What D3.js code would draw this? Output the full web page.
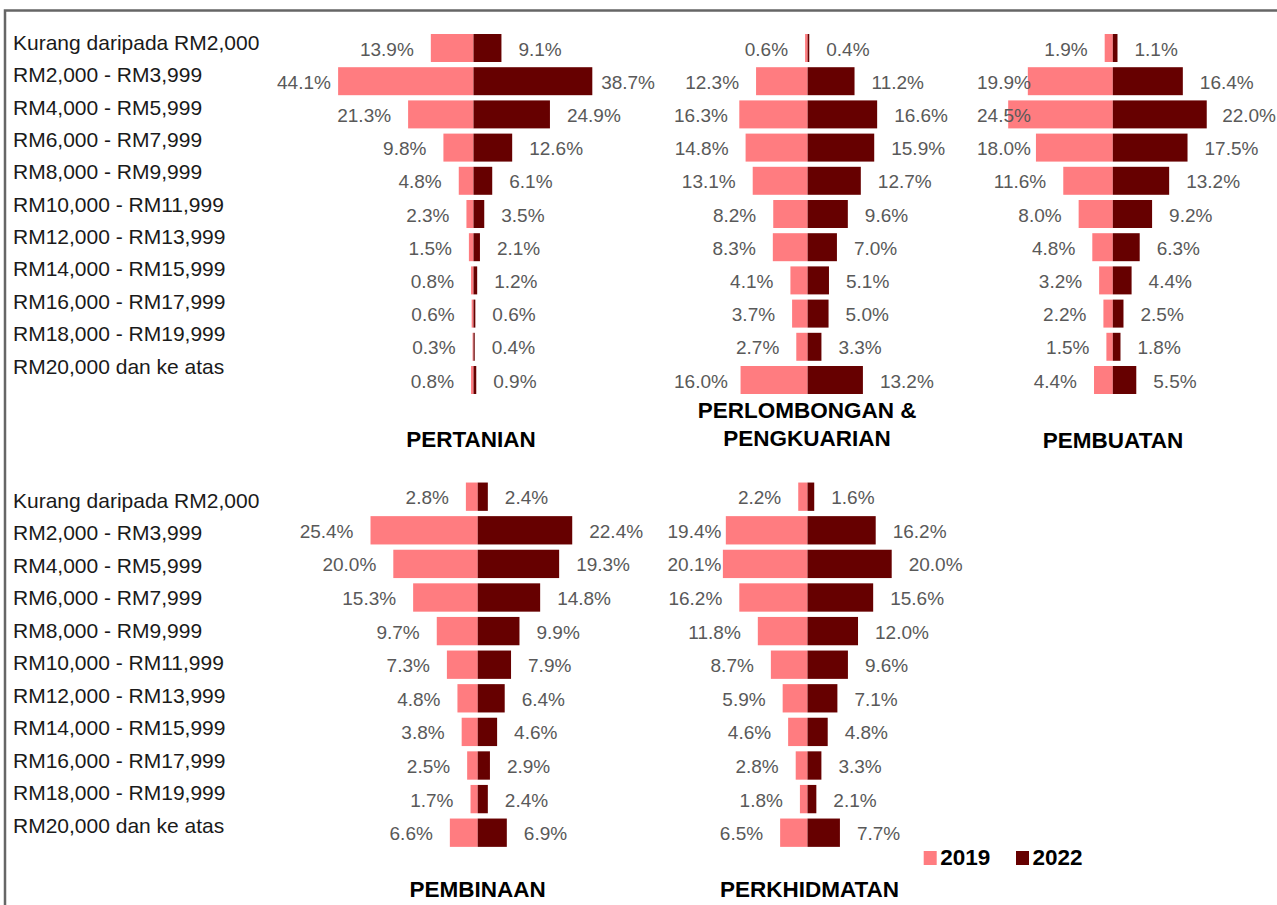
<!DOCTYPE html>
<html>
<head>
<meta charset="utf-8">
<script src="https://cdn.jsdelivr.net/npm/d3@7"></script>
<style>
  html, body { margin: 0; padding: 0; background: #fff; }
  svg { display: block; }
  text { font-family: "Liberation Sans", Arial, sans-serif; }
</style>
</head>
<body>
<svg id="chart" width="1277" height="905"></svg>
<script>
// ---------- DATA ----------
const categories = [
  "Kurang daripada RM2,000",
  "RM2,000 - RM3,999",
  "RM4,000 - RM5,999",
  "RM6,000 - RM7,999",
  "RM8,000 - RM9,999",
  "RM10,000 - RM11,999",
  "RM12,000 - RM13,999",
  "RM14,000 - RM15,999",
  "RM16,000 - RM17,999",
  "RM18,000 - RM19,999",
  "RM20,000 dan ke atas"
];
const years = ["2019", "2022"];
const panelTitles = [
  ["PERTANIAN"],
  ["PERLOMBONGAN &", "PENGKUARIAN"],
  ["PEMBUATAN"],
  ["PEMBINAAN"],
  ["PERKHIDMATAN"]
];
const pertanian2019    = [13.9, 44.1, 21.3, 9.8, 4.8, 2.3, 1.5, 0.8, 0.6, 0.3, 0.8];
const pertanian2022    = [9.1, 38.7, 24.9, 12.6, 6.1, 3.5, 2.1, 1.2, 0.6, 0.4, 0.9];
const perlombongan2019 = [0.6, 12.3, 16.3, 14.8, 13.1, 8.2, 8.3, 4.1, 3.7, 2.7, 16.0];
const perlombongan2022 = [0.4, 11.2, 16.6, 15.9, 12.7, 9.6, 7.0, 5.1, 5.0, 3.3, 13.2];
const pembuatan2019    = [1.9, 19.9, 24.5, 18.0, 11.6, 8.0, 4.8, 3.2, 2.2, 1.5, 4.4];
const pembuatan2022    = [1.1, 16.4, 22.0, 17.5, 13.2, 9.2, 6.3, 4.4, 2.5, 1.8, 5.5];
const pembinaan2019    = [2.8, 25.4, 20.0, 15.3, 9.7, 7.3, 4.8, 3.8, 2.5, 1.7, 6.6];
const pembinaan2022    = [2.4, 22.4, 19.3, 14.8, 9.9, 7.9, 6.4, 4.6, 2.9, 2.4, 6.9];
const perkhidmatan2019 = [2.2, 19.4, 20.1, 16.2, 11.8, 8.7, 5.9, 4.6, 2.8, 1.8, 6.5];
const perkhidmatan2022 = [1.6, 16.2, 20.0, 15.6, 12.0, 9.6, 7.1, 4.8, 3.3, 2.1, 7.7];

const series2019 = [pertanian2019, perlombongan2019, pembuatan2019, pembinaan2019, perkhidmatan2019];
const series2022 = [pertanian2022, perlombongan2022, pembuatan2022, pembinaan2022, perkhidmatan2022];

// ---------- LAYOUT ----------
const colors = { "2019": "#FF7C80", "2022": "#660000" };
const rows = [
  { bandRange: [31.4, 396.6], labelRange: [50, 373.5] },
  { bandRange: [479.9, 849.5], labelRange: [507.5, 832.5] }
];
// cx: centre line, k: px per percent, lo/hi: bounds for value labels, titleY: baselines
const panelLayout = [
  { row: 0, cx: 473.5,  k: 3.07, lo: 277,   hi: 655,  titleX: 471,   titleY: [446.5] },
  { row: 0, cx: 807.6,  k: 4.19, lo: 674,   hi: 1000, titleX: 807,   titleY: [418, 446] },
  { row: 0, cx: 1112.8, k: 4.27, lo: 977,   hi: 1276, titleX: 1113,  titleY: [448] },
  { row: 1, cx: 477.7,  k: 4.22, lo: 270,   hi: 700,  titleX: 477.7, titleY: [897] },
  { row: 1, cx: 807.5,  k: 4.21, lo: 667.5, hi: 1000, titleX: 809.5, titleY: [897] }
];
const gap = 17;
const fmt = d3.format(".1f");

const svg = d3.select("#chart");

// frame
svg.append("rect")
  .attr("x", 5).attr("y", 10.5)
  .attr("width", 1300).attr("height", 920)
  .attr("fill", "none")
  .attr("stroke", "#666666")
  .attr("stroke-width", 2.5);

// category labels (left axis text) for each row
rows.forEach(r => {
  const yLab = d3.scalePoint().domain(categories).range(r.labelRange);
  svg.append("g").selectAll("text")
    .data(categories).join("text")
    .attr("x", 13)
    .attr("y", d => yLab(d))
    .attr("font-size", 21)
    .attr("fill", "#1a1a1a")
    .text(d => d);
});

// panels
panelLayout.forEach((p, pi) => {
  const r = rows[p.row];
  const y = d3.scaleBand().domain(categories).range(r.bandRange)
    .paddingInner(0.157).paddingOuter(0.0785);
  const x = d3.scaleLinear().domain([-50, 50]).range([p.cx - 50 * p.k, p.cx + 50 * p.k]);
  const g = svg.append("g");
  const d19 = series2019[pi].map((v, i) => ({ c: categories[i], v }));
  const d22 = series2022[pi].map((v, i) => ({ c: categories[i], v }));

  g.selectAll("rect.a").data(d19).join("rect")
    .attr("class", "a")
    .attr("x", d => x(-d.v)).attr("width", d => x(0) - x(-d.v))
    .attr("y", d => y(d.c)).attr("height", y.bandwidth())
    .attr("fill", colors["2019"]);
  g.selectAll("rect.b").data(d22).join("rect")
    .attr("class", "b")
    .attr("x", x(0)).attr("width", d => x(d.v) - x(0))
    .attr("y", d => y(d.c)).attr("height", y.bandwidth())
    .attr("fill", colors["2022"]);

  // value labels 2019 (left)
  g.selectAll("text.a").data(d19).join("text")
    .attr("class", "a")
    .attr("font-size", 19)
    .attr("fill", "#595959")
    .attr("y", d => y(d.c) + y.bandwidth() / 2 + 7.5)
    .text(d => fmt(d.v) + "%")
    .each(function(d) {
      const w = this.getComputedTextLength();
      let xs = x(-d.v) - gap - w;
      if (xs < p.lo) xs = p.lo;
      d3.select(this).attr("x", xs);
    });
  // value labels 2022 (right)
  g.selectAll("text.b").data(d22).join("text")
    .attr("class", "b")
    .attr("font-size", 19)
    .attr("fill", "#595959")
    .attr("y", d => y(d.c) + y.bandwidth() / 2 + 7.5)
    .text(d => fmt(d.v) + "%")
    .each(function(d) {
      const w = this.getComputedTextLength();
      let xs = x(d.v) + gap;
      if (xs + w > p.hi) xs = p.hi - w;
      d3.select(this).attr("x", xs);
    });

  // title
  panelTitles[pi].forEach((line, li) => {
    g.append("text")
      .attr("x", p.titleX).attr("y", p.titleY[li])
      .attr("text-anchor", "middle")
      .attr("font-size", 22.5).attr("font-weight", "bold")
      .attr("fill", "#000")
      .text(line);
  });
});

// legend
const legendX = [923.7, 1016];
const legend = svg.append("g");
years.forEach((yr, i) => {
  legend.append("rect")
    .attr("x", legendX[i]).attr("y", 851)
    .attr("width", 13).attr("height", 14)
    .attr("fill", colors[yr]);
  legend.append("text")
    .attr("x", legendX[i] + 16.5).attr("y", 865)
    .attr("font-size", 22.5).attr("font-weight", "bold")
    .attr("fill", "#000")
    .text(yr);
});
</script>
</body>
</html>
